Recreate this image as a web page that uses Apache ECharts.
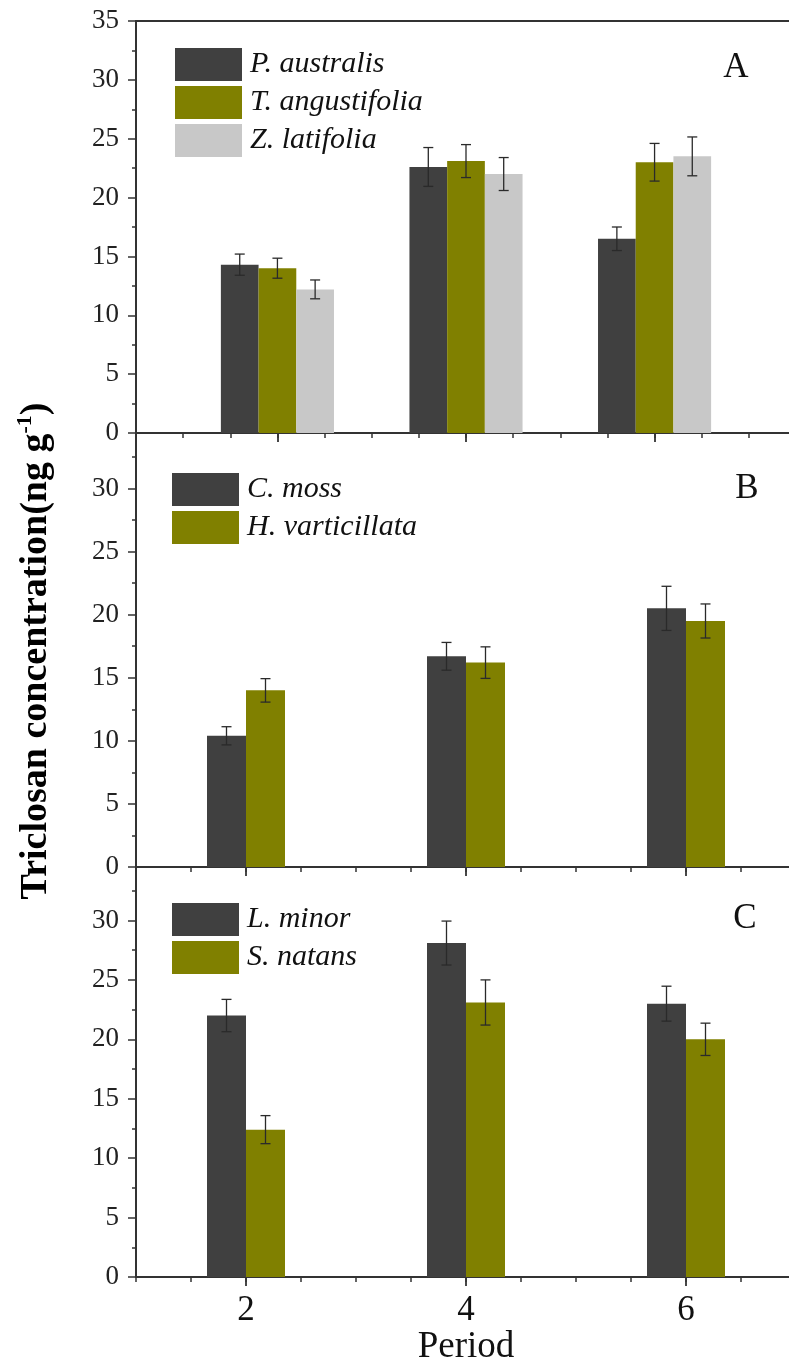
<!DOCTYPE html>
<html>
<head>
<meta charset="utf-8">
<script src="https://cdn.jsdelivr.net/npm/echarts@6/dist/echarts.min.js"></script>
<style>
  html, body { margin: 0; padding: 0; background: #fff; overflow: hidden; }
  #chart { width: 800px; height: 1363px; }
</style>
</head>
<body>
<div id="chart"></div>
<script>
// periods on the x axis
const periods = [2, 4, 6];
const periodLabels = [2, 4, 6];

// panel A
const pAustralis = [14.3, 22.6, 16.5];
const pAustralisErr = [0.9, 1.65, 1.0];
const tAngustifolia = [14.0, 23.1, 23.0];
const tAngustifoliaErr = [0.85, 1.4, 1.6];
const zLatifolia = [12.2, 22.0, 23.5];
const zLatifoliaErr = [0.8, 1.4, 1.65];

// panel B
const cMoss = [10.4, 16.7, 20.5];
const cMossErr = [0.72, 1.1, 1.75];
const hVarticillata = [14.0, 16.2, 19.5];
const hVarticillataErr = [0.93, 1.25, 1.35];

// panel C
const lMinor = [22.0, 28.1, 23.0];
const lMinorErr = [1.36, 1.85, 1.47];
const sNatans = [12.4, 23.1, 20.0];
const sNatansErr = [1.18, 1.9, 1.36];

const DARK = '#404040';
const OLIVE = '#808000';
const LIGHT = '#c8c8c8';
const AXIS = '#333';
const SERIF = '"Liberation Serif", "Times New Roman", serif';

const chart = echarts.init(document.getElementById('chart'), null, { renderer: 'canvas' });

function barSeries(name, values, color, xi, yi, width) {
  return {
    name, type: 'bar', xAxisIndex: xi, yAxisIndex: yi,
    data: periods.map((p, i) => [p, values[i]]),
    barWidth: width, barGap: '0%',
    itemStyle: { color },
    emphasis: { disabled: true },
    z: 2,
  };
}

function errSeries(values, errs, xi, yi, slot, count, width) {
  const offset = (slot - (count - 1) / 2) * width;
  return {
    type: 'custom', xAxisIndex: xi, yAxisIndex: yi,
    data: periods.map((p, i) => [p, values[i] - errs[i], values[i] + errs[i]]),
    encode: { x: 0, y: [1, 2] },
    z: 5, silent: true,
    renderItem: (params, api) => {
      const top = api.coord([api.value(0), api.value(2)]);
      const bot = api.coord([api.value(0), api.value(1)]);
      const cx = top[0] + offset;
      const st = { stroke: '#2a2a2a', lineWidth: 1.3 };
      return {
        type: 'group',
        children: [
          { type: 'line', shape: { x1: cx, y1: top[1], x2: cx, y2: bot[1] }, style: st },
          { type: 'line', shape: { x1: cx - 5, y1: top[1], x2: cx + 5, y2: top[1] }, style: st },
          { type: 'line', shape: { x1: cx - 5, y1: bot[1], x2: cx + 5, y2: bot[1] }, style: st },
        ],
      };
    },
  };
}

function xMinor(gi, min, max) {
  return {
    type: 'value', gridIndex: gi, min, max, interval: 0.5, position: 'bottom',
    axisLine: { show: true, onZero: false, lineStyle: { color: AXIS, width: 2 } },
    axisTick: { show: true, length: 5, lineStyle: { color: AXIS, width: 1.5 } },
    axisLabel: { show: false },
    splitLine: { show: false },
  };
}

function xMajor(gi, min, max, showLabels) {
  return {
    type: 'value', gridIndex: gi, min, max, position: 'bottom',
    axisLine: { show: false, onZero: false },
    axisTick: { show: true, length: 9, customValues: periodLabels, lineStyle: { color: AXIS, width: 1.8 } },
    axisLabel: {
      show: showLabels, customValues: periodLabels, margin: 16,
      color: '#111', fontFamily: SERIF, fontSize: 35,
    },
    splitLine: { show: false },
    name: showLabels ? 'Period' : '',
    nameLocation: 'middle', nameGap: 52,
    nameTextStyle: { color: '#111', fontFamily: SERIF, fontSize: 37 },
  };
}

function yMain(gi, max) {
  return {
    type: 'value', gridIndex: gi, min: 0, max, interval: 5, position: 'left',
    axisLine: { show: true, onZero: false, lineStyle: { color: AXIS, width: 2 } },
    axisTick: { show: true, length: 8, lineStyle: { color: AXIS, width: 1.5 } },
    axisLabel: {
      margin: 17, color: '#222', fontFamily: SERIF, fontSize: 27,
      formatter: (v) => (v % 5 === 0 ? String(v) : ''),
    },
    splitLine: { show: false },
  };
}

function yMinor(gi, max) {
  return {
    type: 'value', gridIndex: gi, min: 0, max, interval: 2.5, position: 'left',
    axisLine: { show: false, onZero: false },
    axisTick: { show: true, length: 4, lineStyle: { color: AXIS, width: 1.5 } },
    axisLabel: { show: false },
    splitLine: { show: false },
  };
}

function legend(names, left, top) {
  return {
    data: names, orient: 'vertical', left, top, padding: 0,
    itemWidth: 67, itemHeight: 33, itemGap: 5,
    icon: 'rect', selectedMode: false,
    textStyle: { fontFamily: SERIF, fontStyle: 'italic', fontSize: 30, color: '#111', padding: [0, 0, 0, 3] },
  };
}

function panelLetter(text, x, y) {
  return {
    type: 'text', x, y,
    style: { text, font: '35px ' + SERIF, fill: '#111', align: 'center', verticalAlign: 'middle' },
  };
}

const option = {
  animation: false,
  backgroundColor: '#fff',
  grid: [
    { left: 136, right: 4, top: 21, height: 412, outerBoundsMode: 'none' },
    { left: 136, right: 4, top: 433, height: 434, outerBoundsMode: 'none' },
    { left: 136, right: 4, top: 867, height: 410, outerBoundsMode: 'none' },
  ],
  xAxis: [
    xMinor(0, 0.5, 7.5),
    xMajor(0, 0.5, 7.5, false),
    {
      type: 'value', gridIndex: 0, min: 0.5, max: 7.5, position: 'top',
      axisLine: { show: true, onZero: false, lineStyle: { color: AXIS, width: 2 } },
      axisTick: { show: false }, axisLabel: { show: false }, splitLine: { show: false },
    },
    xMinor(1, 1, 7),
    xMajor(1, 1, 7, false),
    xMinor(2, 1, 7),
    xMajor(2, 1, 7, true),
  ],
  yAxis: [
    yMain(0, 35), yMinor(0, 35),
    yMain(1, 34.4), yMinor(1, 34.4),
    yMain(2, 34.5), yMinor(2, 34.5),
  ],
  legend: [
    legend(['P. australis', 'T. angustifolia', 'Z. latifolia'], 175, 48),
    legend(['C. moss', 'H. varticillata'], 172, 473),
    legend(['L. minor', 'S. natans'], 172, 903),
  ],
  graphic: [
    panelLetter('A', 736, 68),
    panelLetter('B', 747, 489),
    panelLetter('C', 745, 919),
    {
      type: 'text', x: 36, y: 651, rotation: Math.PI / 2,
      style: {
        text: '{a|Triclosan concentration(ng g}{s|-1}{a|)}',
        align: 'center', verticalAlign: 'middle', fill: '#000',
        rich: {
          a: { fontFamily: SERIF, fontWeight: 'bold', fontSize: 38, lineHeight: 44 },
          s: { fontFamily: SERIF, fontWeight: 'bold', fontSize: 22, verticalAlign: 'top', lineHeight: 22 },
        },
      },
    },
  ],
  series: [
    barSeries('P. australis', pAustralis, DARK, 0, 0, 37.7),
    barSeries('T. angustifolia', tAngustifolia, OLIVE, 0, 0, 37.7),
    barSeries('Z. latifolia', zLatifolia, LIGHT, 0, 0, 37.7),
    errSeries(pAustralis, pAustralisErr, 0, 0, 0, 3, 37.7),
    errSeries(tAngustifolia, tAngustifoliaErr, 0, 0, 1, 3, 37.7),
    errSeries(zLatifolia, zLatifoliaErr, 0, 0, 2, 3, 37.7),

    barSeries('C. moss', cMoss, DARK, 3, 2, 39),
    barSeries('H. varticillata', hVarticillata, OLIVE, 3, 2, 39),
    errSeries(cMoss, cMossErr, 3, 2, 0, 2, 39),
    errSeries(hVarticillata, hVarticillataErr, 3, 2, 1, 2, 39),

    barSeries('L. minor', lMinor, DARK, 5, 4, 39),
    barSeries('S. natans', sNatans, OLIVE, 5, 4, 39),
    errSeries(lMinor, lMinorErr, 5, 4, 0, 2, 39),
    errSeries(sNatans, sNatansErr, 5, 4, 1, 2, 39),
  ],
};

chart.setOption(option);
</script>
</body>
</html>
